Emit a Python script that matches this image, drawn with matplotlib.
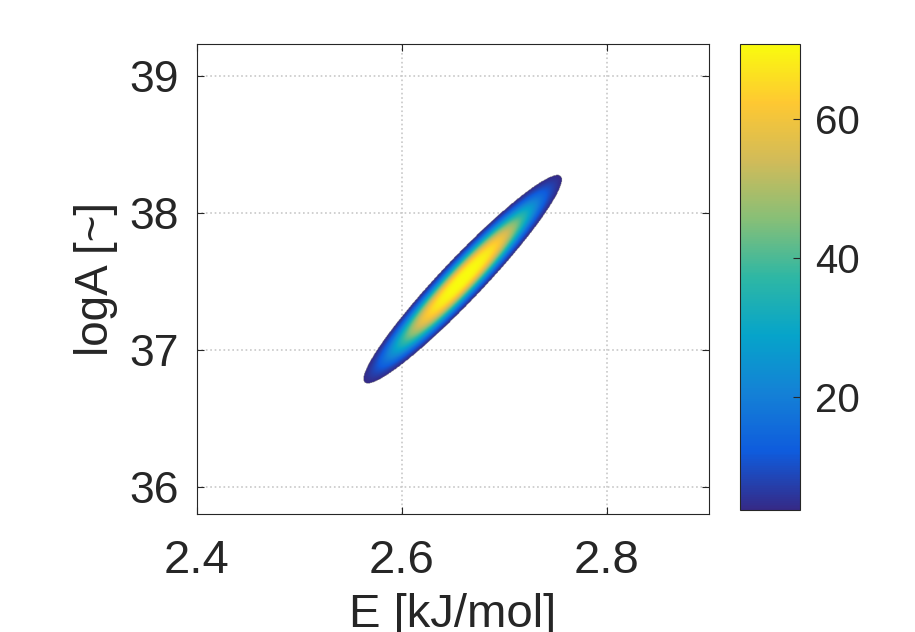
import numpy as np
import matplotlib
matplotlib.use('Agg')
import matplotlib.pyplot as plt
from matplotlib.colors import LinearSegmentedColormap

# density cloud (E, logA)
E_center = 2.659
logA_center = 37.51
sigma_E = 0.0535
sigma_logA = 0.420
rho = 0.9575
shape_power = 3.0   # flatter top than a plain gaussian
peak_density = 70.8
floor_density = 3.7

x_ticks = [2.4, 2.6, 2.8]
y_ticks = [36, 37, 38, 39]
cbar_ticks = [20, 40, 60]

# parula-like colormap
parula_colors = ['#352a87', '#0f5cdd', '#1481d6', '#06a4ca', '#2eb7a4',
                 '#87bf77', '#d1bb59', '#fec832', '#f9fb0e']
parula = LinearSegmentedColormap.from_list('parula', parula_colors)

plt.rcParams['font.family'] = ['Liberation Sans', 'DejaVu Sans']
text_color = '#262626'

fig = plt.figure(figsize=(9.15, 6.32), dpi=100)
ax = fig.add_axes([0.2153, 0.1867, 0.5596, 0.7437])
cax = fig.add_axes([0.8087, 0.193, 0.0656, 0.737])

xlim = (2.4, 2.9)
ylim = (35.8, 39.23)
gx = np.linspace(xlim[0], xlim[1], 800)
gy = np.linspace(ylim[0], ylim[1], 800)
X, Y = np.meshgrid(gx, gy)
u = (X - E_center) / sigma_E
v = (Y - logA_center) / sigma_logA
r2 = (u**2 - 2 * rho * u * v + v**2) / (1 - rho**2)
Z = peak_density * np.exp(-0.5 * r2 ** (shape_power / 2))
Z = np.ma.masked_less(Z, floor_density)

im = ax.imshow(Z, origin='lower', extent=(xlim[0], xlim[1], ylim[0], ylim[1]),
               aspect='auto', cmap=parula, vmin=floor_density, vmax=peak_density,
               interpolation='bilinear', zorder=2)

ax.set_xlim(xlim)
ax.set_ylim(ylim)
ax.set_xticks(x_ticks)
ax.set_yticks(y_ticks)
ax.set_xticklabels([f'{t:.1f}' for t in x_ticks])
ax.set_yticklabels([str(t) for t in y_ticks])
ax.grid(True, linestyle=':', color='#c8c8c8', linewidth=1.2, zorder=1)
ax.set_axisbelow(True)

ax.tick_params(axis='x', direction='in', length=5, width=0.8, top=True,
               labelsize=34, pad=18, colors=text_color)
ax.tick_params(axis='y', direction='in', length=5, width=0.8, right=True,
               labelsize=32, pad=13, colors=text_color)
for s in ax.spines.values():
    s.set_color(text_color)
    s.set_linewidth(0.8)

ax.set_xlabel('E [kJ/mol]', fontsize=34, color=text_color, labelpad=7)
ax.set_ylabel('logA [~]', fontsize=33, color=text_color, labelpad=8)

cb = fig.colorbar(im, cax=cax, ticks=cbar_ticks)
cb.ax.tick_params(direction='in', length=5, width=0.8, labelsize=29, pad=11,
                  colors=text_color)
cb.outline.set_edgecolor(text_color)
cb.outline.set_linewidth(0.8)

fig.savefig('out.png', dpi=100, facecolor='white')
